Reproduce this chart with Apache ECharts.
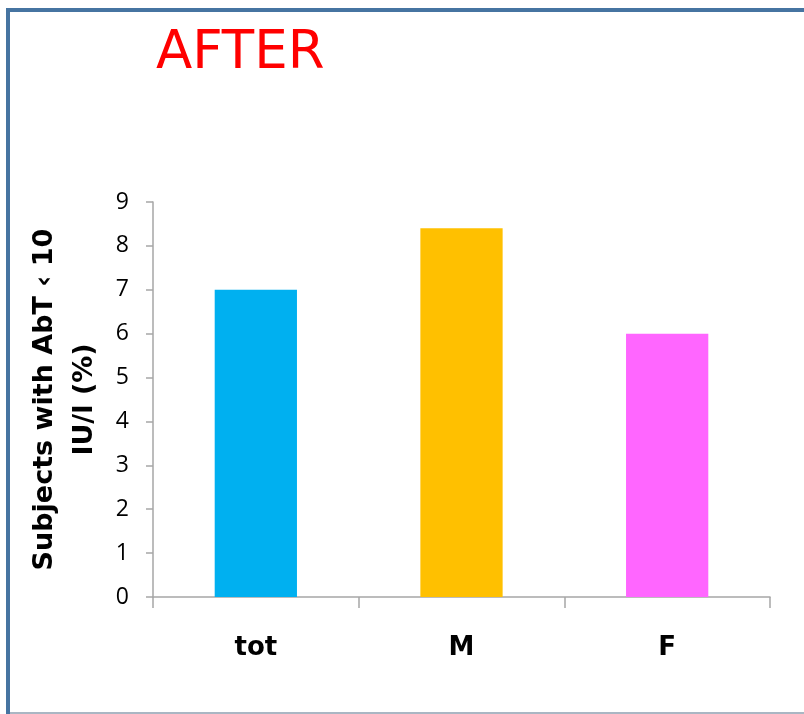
<!DOCTYPE html>
<html>
<head>
<meta charset="utf-8">
<script src="https://cdn.jsdelivr.net/npm/echarts@6/dist/echarts.min.js"></script>
<style>
  html, body { margin: 0; padding: 0; background: #fff; }
  #chart { width: 804px; height: 714px; }
</style>
</head>
<body>
<div id="chart"></div>
<script>
// Categories and percentages of subjects with AbT below 10 IU/l
const categories = ['tot', 'M', 'F'];
const values = [7.0, 8.4, 6.0];
const barColors = ['#00b0f0', '#ffc000', '#ff66ff'];
const yTicks = [0, 1, 2, 3, 4, 5, 6, 7, 8, 9];

const chart = echarts.init(document.getElementById('chart'), null, { renderer: 'canvas' });

const frameColor = '#4674a1';

chart.setOption({
  animation: false,
  backgroundColor: '#ffffff',
  title: {
    text: 'AFTER',
    left: 151,
    top: 23,
    textStyle: {
      color: '#ff0000',
      fontFamily: '"DejaVu Sans", sans-serif',
      fontWeight: 'normal',
      fontSize: 53
    }
  },
  graphic: [
    { type: 'rect', shape: { x: 6, y: 8, width: 798, height: 4 }, style: { fill: frameColor }, silent: true },
    { type: 'rect', shape: { x: 6, y: 8, width: 4, height: 706 }, style: { fill: frameColor }, silent: true },
    { type: 'rect', shape: { x: 10, y: 712, width: 794, height: 2 }, style: { fill: '#aab6c3' }, silent: true }
  ],
  grid: { left: 153, right: 34, top: 202, bottom: 117, containLabel: false, outerBoundsMode: 'none' },
  xAxis: {
    type: 'category',
    data: categories,
    boundaryGap: true,
    axisLine: { show: true, lineStyle: { color: '#a6a6a6', width: 1.5 } },
    axisTick: { show: true, length: 11, alignWithLabel: false, lineStyle: { color: '#a6a6a6', width: 1.5 } },
    axisLabel: {
      margin: 38,
      color: '#000',
      fontFamily: '"DejaVu Sans", sans-serif',
      fontWeight: 'bold',
      fontSize: 26
    }
  },
  yAxis: {
    type: 'value',
    min: yTicks[0],
    max: yTicks[yTicks.length - 1],
    interval: 1,
    splitLine: { show: false },
    axisLine: { show: true, lineStyle: { color: '#a6a6a6', width: 1.5 } },
    axisTick: { show: true, length: 7, lineStyle: { color: '#a6a6a6', width: 1.5 } },
    axisLabel: {
      margin: 24,
      color: '#000',
      fontFamily: '"Open Sans", sans-serif',
      fontSize: 23
    },
    name: 'Subjects with AbT \u2039 10\nIU/l (%)',
    nameLocation: 'middle',
    nameGap: 40,
    nameRotate: 90,
    nameTextStyle: {
      color: '#000',
      fontFamily: '"DejaVu Sans", sans-serif',
      fontWeight: 'bold',
      fontSize: 27,
      lineHeight: 40,
      align: 'center'
    }
  },
  series: [{
    type: 'bar',
    barWidth: '40%',
    data: values.map((v, i) => ({ value: v, itemStyle: { color: barColors[i] } }))
  }]
});
</script>
</body>
</html>
